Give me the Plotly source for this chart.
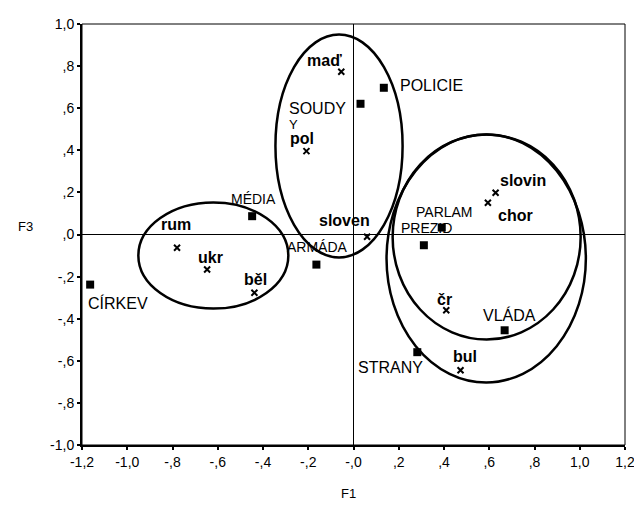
import plotly.graph_objects as go

# Institutions (squares)
inst_names = ["POLICIE", "SOUDY", "MÉDIA", "CÍRKEV", "ARMÁDA", "PARLAM", "PREZID", "VLÁDA", "STRANY"]
inst_f1 = [0.134, 0.031, -0.448, -1.164, -0.164, 0.39, 0.311, 0.668, 0.282]
inst_f3 = [0.697, 0.621, 0.087, -0.238, -0.143, 0.033, -0.051, -0.455, -0.559]

# Nationalities (x markers)
nat_names = ["maď", "pol", "rum", "ukr", "běl", "sloven", "slovin", "chor", "čr", "bul"]
nat_f1 = [-0.054, -0.208, -0.78, -0.647, -0.438, 0.06, 0.628, 0.594, 0.41, 0.473]
nat_f3 = [0.773, 0.396, -0.063, -0.166, -0.277, -0.011, 0.198, 0.151, -0.36, -0.645]

# Cluster ellipses: (F1 min, F1 max, F3 min, F3 max)
ellipse_f1_min = [-0.951, -0.345, 0.173, 0.146]
ellipse_f1_max = [-0.288, 0.217, 1.004, 1.027]
ellipse_f3_min = [-0.352, -0.109, -0.499, -0.703]
ellipse_f3_max = [0.152, 0.95, 0.475, 0.475]

# Axis ticks
x_tickvals = [-1.2, -1.0, -0.8, -0.6, -0.4, -0.2, 0.0, 0.2, 0.4, 0.6, 0.8, 1.0, 1.2]
x_ticktext = ["-1,2", "-1,0", "-,8", "-,6", "-,4", "-,2", "-,0", ",2", ",4", ",6", ",8", "1,0", "1,2"]
y_tickvals = [-1.0, -0.8, -0.6, -0.4, -0.2, 0.0, 0.2, 0.4, 0.6, 0.8, 1.0]
y_ticktext = ["-1,0", "-,8", "-,6", "-,4", "-,2", ",0", ",2", ",4", ",6", ",8", "1,0"]

# label placement (pixel offsets from the point: left edge dx, centre dy; font size)
inst_label_style = {
    "POLICIE": (14, -2, 16), "SOUDY": (-74, 5, 16), "MÉDIA": (-23, -17, 14),
    "CÍRKEV": (-4, 18, 16), "ARMÁDA": (-31, -18, 14), "PARLAM": (-28, -16, 14),
    "PREZID": (-25, -17, 14), "VLÁDA": (-24, -15, 16), "STRANY": (-61, 15, 16),
}
nat_label_style = {
    "maď": (-36, -11), "pol": (-18, -13), "rum": (-18, -23), "ukr": (-11, -12),
    "běl": (-12, -13), "sloven": (-50, -16), "slovin": (2, -12), "chor": (8, 13),
    "čr": (-11, -11), "bul": (-10, -14),
}

FONT = "Liberation Sans, Arial, sans-serif"

fig = go.Figure()
fig.add_trace(go.Scatter(
    x=inst_f1, y=inst_f3, mode="markers",
    marker=dict(symbol="square", size=8, color="black"),
    showlegend=False, hoverinfo="skip",
))
fig.add_trace(go.Scatter(
    x=nat_f1, y=nat_f3, mode="markers",
    marker=dict(symbol="x-thin", size=6, color="black", line=dict(color="black", width=2)),
    showlegend=False, hoverinfo="skip",
))

annotations = []
for n, x, y in zip(inst_names, inst_f1, inst_f3):
    dx, dy, fs = inst_label_style[n]
    annotations.append(dict(x=x, y=y, xref="x", yref="y", text=n, showarrow=False,
                            xanchor="left", yanchor="middle", xshift=dx, yshift=-dy,
                            font=dict(family=FONT, size=fs, color="black")))
for n, x, y in zip(nat_names, nat_f1, nat_f3):
    dx, dy = nat_label_style[n]
    annotations.append(dict(x=x, y=y, xref="x", yref="y", text="<b>" + n + "</b>", showarrow=False,
                            xanchor="left", yanchor="middle", xshift=dx, yshift=-dy,
                            font=dict(family=FONT, size=16, color="black")))
# stray mark under SOUDY
annotations.append(dict(x=nat_f1[1], y=nat_f3[1], xref="x", yref="y", text="Y", showarrow=False,
                        xanchor="center", yanchor="middle", xshift=-13, yshift=27,
                        font=dict(family=FONT, size=13, color="black")))
# axis titles
annotations.append(dict(x=0.0, y=0.04, xref="paper", yref="y", text="F3", showarrow=False,
                        xanchor="center", yanchor="middle", xshift=-57,
                        font=dict(family=FONT, size=13, color="black")))
annotations.append(dict(x=0.5, y=-0.115, xref="paper", yref="paper", text="F1", showarrow=False,
                        xanchor="center", yanchor="middle", xshift=-5,
                        font=dict(family=FONT, size=13, color="black")))

shapes = []
for a, b, c, d in zip(ellipse_f1_min, ellipse_f1_max, ellipse_f3_min, ellipse_f3_max):
    shapes.append(dict(type="circle", xref="x", yref="y", x0=a, x1=b, y0=c, y1=d,
                       line=dict(color="black", width=2.5)))
shapes.append(dict(type="rect", xref="paper", yref="paper", x0=0, x1=1, y0=0, y1=1,
                   line=dict(color="black", width=1)))

fig.update_layout(
    width=634, height=505,
    margin=dict(l=82, r=9, t=24, b=60, autoexpand=False),
    paper_bgcolor="white", plot_bgcolor="white",
    annotations=annotations, shapes=shapes,
    font=dict(family=FONT, size=13, color="black"),
)
fig.update_xaxes(range=[-1.2, 1.2], tickvals=x_tickvals, ticktext=x_ticktext,
                 showgrid=False, zeroline=True, zerolinecolor="black", zerolinewidth=1,
                 showline=True, linecolor="black", linewidth=2,
                 ticks="outside", ticklen=3, tickwidth=2, tickcolor="black",
                 ticklabeloverflow="allow", automargin=False,
                 tickfont=dict(family=FONT, size=14, color="black"))
fig.update_yaxes(range=[-1.0, 1.0], tickvals=y_tickvals, ticktext=y_ticktext,
                 showgrid=False, zeroline=True, zerolinecolor="black", zerolinewidth=1,
                 showline=True, linecolor="black", linewidth=2,
                 ticks="outside", ticklen=3, tickwidth=2, tickcolor="black",
                 ticklabeloverflow="allow", automargin=False,
                 tickfont=dict(family=FONT, size=14, color="black"))

fig.write_html("out.html", config={"displayModeBar": False},
               post_script="document.body.style.margin='0';document.body.style.overflow='hidden';")
